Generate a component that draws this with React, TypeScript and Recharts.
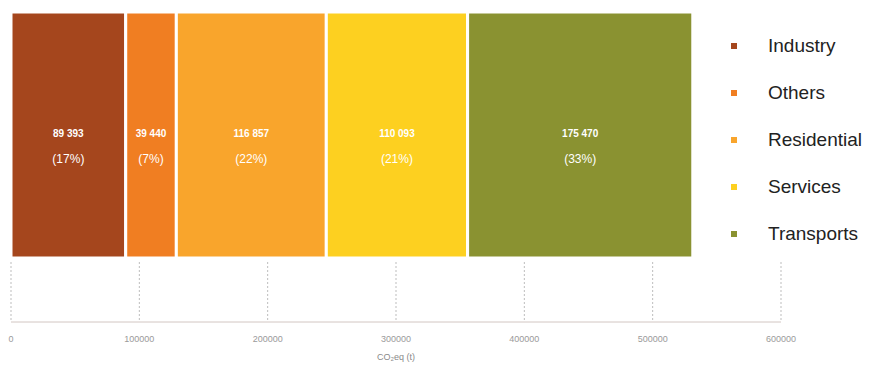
import { BarChart, Bar, XAxis, YAxis, CartesianGrid, LabelList } from "recharts";

const sectors = ["Industry", "Others", "Residential", "Services", "Transports"];
const emissions = [89393, 39440, 116857, 110093, 175470];
const shares = ["17%", "7%", "22%", "21%", "33%"];
const colors = ["#a5461d", "#f07e22", "#f9a52c", "#fdd020", "#8a9231"];
const xTicks = [0, 100000, 200000, 300000, 400000, 500000, 600000];

const row: Record<string, string | number> = { name: "CO2" };
sectors.forEach((s, i) => {
  row[s] = emissions[i];
});
const chartData = [row];

const fmt = (v: number) => v.toLocaleString("en-US").replace(/,/g, " ");

const makeLabel = (idx: number) => (props: any) => {
  const { x, y, width, height } = props;
  const cx = x + width / 2;
  const cy = y + height / 2;
  return (
    <g>
      <text x={cx} y={cy + 2} textAnchor="middle" fill="#fff" fontSize={10} fontWeight="bold" fontFamily="Liberation Sans, Arial">
        {fmt(emissions[idx])}
      </text>
      <text x={cx} y={cy + 28} textAnchor="middle" fill="#fff" fontSize={12} fontFamily="Liberation Sans, Arial">
        ({shares[idx]})
      </text>
    </g>
  );
};

export default function App() {
  return (
    <div style={{ position: "absolute", left: 0, top: 0, width: 888, height: 370, background: "#fff", fontFamily: "Liberation Sans, Arial" }}>
      <BarChart
        width={888}
        height={370}
        data={chartData}
        layout="vertical"
        barCategoryGap={0}
        margin={{ top: 12, right: 107, bottom: 0, left: 11 }}
      >
        <CartesianGrid y={262} height={60} horizontal={false} vertical={true} stroke="#bdbdbd" strokeDasharray="2 2" />
        <XAxis
          type="number"
          domain={[0, 600000]}
          ticks={xTicks}
          height={48}
          axisLine={{ stroke: "#d2c6c2" }}
          tickLine={false}
          tickMargin={8}
          tick={{ fontSize: 9, fill: "#9a9a9a" }}
          label={{ value: "CO₂eq (t)", position: "insideBottom", offset: 10, fontSize: 9, fill: "#8a8a8a" }}
        />
        <YAxis
          type="category"
          dataKey="name"
          width={0}
          tick={false}
          tickLine={false}
          axisLine={{ stroke: "#e0d8d6" }}
          padding={{ top: 0, bottom: 64 }}
        />
        {sectors.map((s, i) => (
          <Bar key={s} dataKey={s} stackId="a" fill={colors[i]} stroke="#fff" strokeWidth={3} isAnimationActive={false}>
            <LabelList dataKey={s} content={makeLabel(i)} />
          </Bar>
        ))}
      </BarChart>
      <div style={{ position: "absolute", left: 731, top: 22, fontSize: 19, color: "#222" }}>
        {sectors.map((s, i) => (
          <div key={s} style={{ display: "flex", alignItems: "center", height: 47 }}>
            <span style={{ display: "inline-block", width: 6, height: 6, background: colors[i], marginRight: 31 }} />
            <span>{s}</span>
          </div>
        ))}
      </div>
    </div>
  );
}
